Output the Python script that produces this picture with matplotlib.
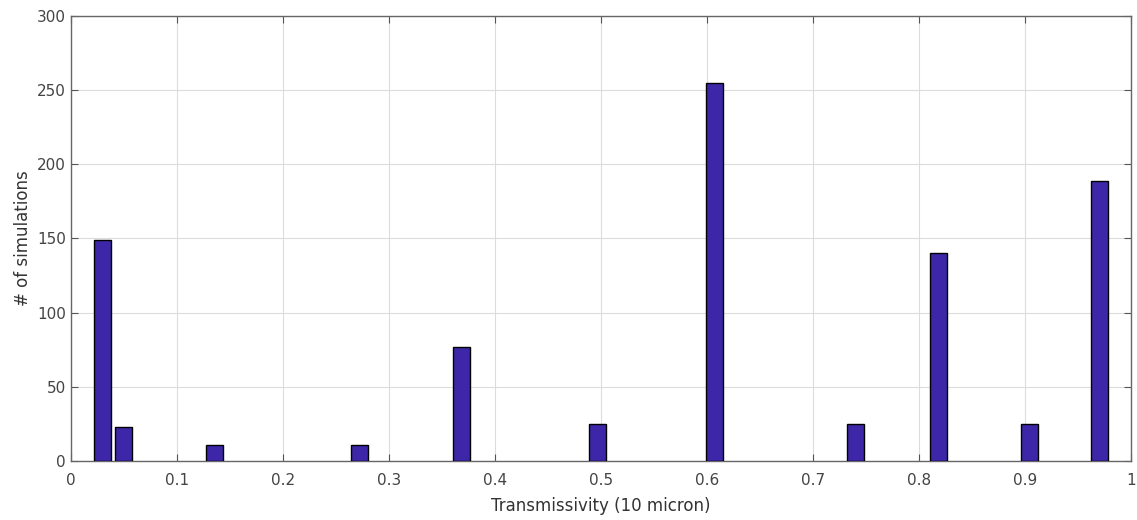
import matplotlib.pyplot as plt

# transmissivity values and counts
transmissivity = [0.030, 0.050, 0.135, 0.272, 0.368, 0.497, 0.607, 0.740, 0.818, 0.904, 0.970]
n_simulations = [149, 23, 11, 11, 77, 25, 255, 25, 140, 25, 189]

x_ticks = [0, 0.1, 0.2, 0.3, 0.4, 0.5, 0.6, 0.7, 0.8, 0.9, 1]
x_tick_labels = ["0", "0.1", "0.2", "0.3", "0.4", "0.5", "0.6", "0.7", "0.8", "0.9", "1"]
y_ticks = [0, 50, 100, 150, 200, 250, 300]

fig = plt.figure(figsize=(11.37, 5.20), dpi=100)
ax = fig.add_axes([0.0624, 0.1135, 0.9323, 0.8557])

ax.bar(transmissivity, n_simulations, width=0.016,
       color="#3E26A8", edgecolor="black", linewidth=1.0, zorder=3)

ax.set_xlim(0, 1)
ax.set_ylim(0, 300)
ax.set_xticks(x_ticks)
ax.set_xticklabels(x_tick_labels)
ax.set_yticks(y_ticks)

ax.grid(True, color="#dcdcdc", linewidth=0.8, zorder=0)
ax.set_axisbelow(True)
ax.tick_params(direction="in", top=True, right=True, length=5,
               colors="#555555", labelcolor="#444444", labelsize=11)
ax.tick_params(axis="x", pad=9)
for spine in ax.spines.values():
    spine.set_edgecolor("#666666")
    spine.set_linewidth(1.0)

ax.set_xlabel("Transmissivity (10 micron)", fontsize=12, color="#333333", labelpad=6)
ax.set_ylabel("# of simulations", fontsize=12, color="#333333")

plt.savefig("out.png", dpi=100)
